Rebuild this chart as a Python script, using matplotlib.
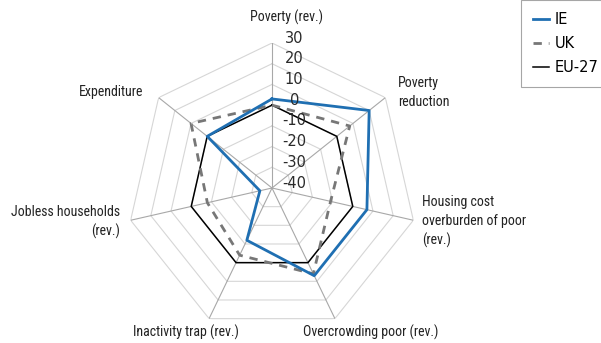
import numpy as np
import matplotlib.pyplot as plt

categories = ["Poverty (rev.)", "Poverty\nreduction",
              "Housing cost\noverburden of poor\n(rev.)",
              "Overcrowding poor (rev.)", "Inactivity trap (rev.)",
              "Jobless households\n(rev.)", "Expenditure"]
ie = [3, 20, 7, 7, -12, -34, 0]
uk = [0, 8, -11, 6, -4, -8, 10]
eu27 = [0, 0, 0, 0, 0, 0, 0]
ticks = [-40, -30, -20, -10, 0, 10, 20, 30]

W, H = 601, 343
fig = plt.figure(figsize=(W / 100, H / 100), dpi=100)

# radar centre ~ (272, 188) px, radius 145 px
cx, cy, R = 272, 188, 145
ax = fig.add_axes([(cx - R) / W, (H - cy - R) / H, 2 * R / W, 2 * R / H], projection="polar")
ax.set_theta_offset(np.pi / 2)
ax.set_theta_direction(-1)
ax.set_ylim(ticks[0], ticks[-1])
ax.grid(False)
ax.spines["polar"].set_visible(False)
ax.set_xticks([])
ax.set_yticks([])
ax.patch.set_visible(False)

n = len(categories)
theta = np.linspace(0, 2 * np.pi, n, endpoint=False)
theta_c = np.append(theta, theta[0])

# heptagon grid
for t in ticks[1:]:
    ax.plot(theta_c, [t] * (n + 1), color="#d6d6d6", lw=0.8, zorder=1)
for th in theta:
    ax.plot([th, th], [ticks[0], ticks[-1]], color="#a8a8a8", lw=0.8, zorder=1)

def close(v):
    return list(v) + [v[0]]

ax.plot(theta_c, close(eu27), color="black", lw=1.1, zorder=3, label="EU-27")
ax.plot(theta_c, close(uk), color="#777777", lw=2, ls=(0, (3, 2.5)), zorder=3, label="UK")
ax.plot(theta_c, close(ie), color="#1f6fb2", lw=2, zorder=4, label="IE")

for t in ticks:
    ax.annotate(str(t), xy=(0, t), xytext=(16, 3.5), textcoords="offset points",
                ha="center", va="center", fontsize=10.5, color="#2a2a2a",
                family="DejaVu Sans", zorder=5)

lab_font = dict(fontsize=10, color="#222222",
                family=["Roboto Condensed", "Roboto", "DejaVu Sans"],
                linespacing=1.4)
# (x px, y px, ha)
lab_pos = [(286, 17, "center"), (398, 92.5, "left"), (422, 221.7, "left"),
           (371, 332.7, "center"), (186, 332.7, "center"), (120, 221.7, "right"),
           (143, 91.7, "right")]
for lab, (x, y, ha) in zip(categories, lab_pos):
    fig.text(x / W, 1 - y / H, lab, ha=ha, va="center", multialignment=ha, **lab_font)

handles, labels = ax.get_legend_handles_labels()
order = [2, 1, 0]
leg = fig.legend([handles[i] for i in order], [labels[i] for i in order],
                 loc="upper left", bbox_to_anchor=(521 / W, 1.0), borderaxespad=0,
                 frameon=True, fancybox=False, handlelength=1.1,
                 handletextpad=0.35, labelspacing=0.6, borderpad=0.85,
                 prop={"family": "DejaVu Sans", "size": 10.5})
leg.get_frame().set_edgecolor("#909090")
leg.get_frame().set_linewidth(0.8)

fig.savefig("out.png", dpi=100)
